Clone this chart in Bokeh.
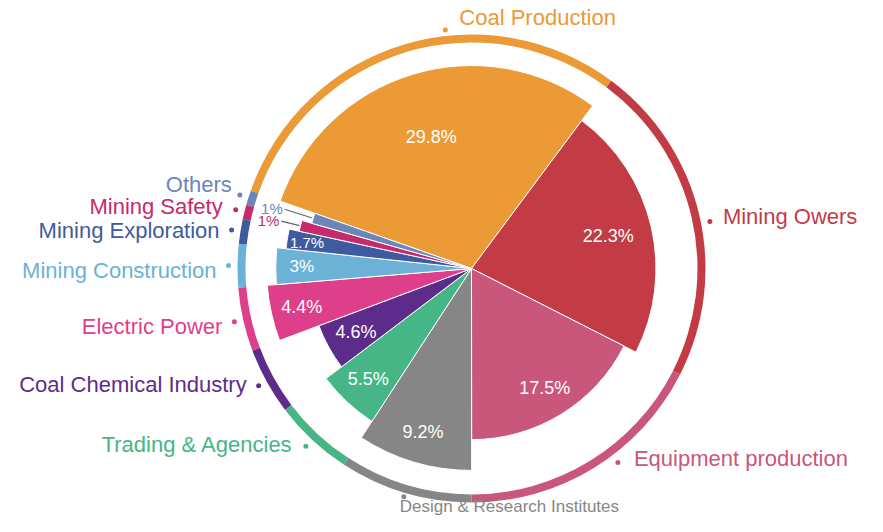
import math
from bokeh.plotting import figure
from bokeh.models import Range1d, ColumnDataSource
from bokeh.embed import file_html
from bokeh.resources import INLINE
from bokeh.core.properties import value

# ---------------- data ----------------
categories = ["Coal Production", "Mining Owers", "Equipment production",
              "Design & Research Institutes", "Trading & Agencies",
              "Coal Chemical Industry", "Electric Power", "Mining Construction",
              "Mining Exploration", "Mining Safety", "Others"]
shares = [29.8, 22.3, 17.5, 9.2, 5.5, 4.6, 4.4, 3, 1.7, 1, 1]
# relative petal length of each slice (1.0 = longest)
petal_length = [0.99, 0.90, 0.835, 0.985, 0.89, 0.795, 1.0, 0.955, 0.91, 0.86, 0.81]
colors = ["#EB9A35", "#C23B45", "#C9577B", "#868686", "#46B686", "#5D2C8B",
          "#DE3F8B", "#6CB1D6", "#3E5BA0", "#C52A6B", "#6B86B8"]

# ---------------- layout ----------------
W, H = 867, 516
X0, Y0 = 1, 15             # range starts (screen px mapping)
CX, CY = 472, 263          # centre in data units (y up)
R_MAX = 205
START_DEG = -70.6          # compass angle where first slice starts
RING_IN, RING_OUT = 226, 234
DOT_R = 243
LEADER_R = 196
FONT = value("Liberation Sans")
label_angle_shift = {"Coal Production": 10.7, "Mining Owers": 2.0, "Equipment production": -5.5}
label_dot_r = {"Coal Production": 240, "Design & Research Institutes": 238}
label_font = {"Design & Research Institutes": "17px"}
# screen-pixel nudges (dx, dy) and alignment for outer labels
label_nudge = {"Mining Owers": (13, -5), "Equipment production": (16, -4),
               "Coal Production": (14, -12), "Design & Research Institutes": (-4, 9.5),
               "Trading & Agencies": (-13, -2), "Coal Chemical Industry": (-12, -1),
               "Electric Power": (-12, 5), "Mining Construction": (-12, 5),
               "Mining Exploration": (-12, 1), "Mining Safety": (-13, -3),
               "Others": (-8, -11)}
label_align = {"Mining Owers": "left", "Equipment production": "left",
               "Coal Production": "left", "Design & Research Institutes": "left"}
inside_inset = {"Coal Production": 65, "Mining Owers": 44, "Mining Construction": 26,
                "Mining Exploration": 20}


def pt(theta_deg, r):
    t = math.radians(theta_deg)
    return CX + r * math.sin(t), CY + r * math.cos(t)


p = figure(width=W, height=H, x_range=Range1d(X0, X0 + W), y_range=Range1d(Y0, Y0 + H),
           output_backend="svg", toolbar_location=None, min_border=0,
           x_axis_location=None, y_axis_location=None)
p.grid.visible = False
p.outline_line_color = None
p.background_fill_color = "white"

total = sum(shares)
starts, ends, mids, radii = [], [], [], []
acc = START_DEG
for v, pl in zip(shares, petal_length):
    a0 = acc
    a1 = acc + 360.0 * v / total
    starts.append(a0)
    ends.append(a1)
    mids.append((a0 + a1) / 2)
    radii.append(pl * R_MAX)
    acc = a1

src = ColumnDataSource(dict(
    x=[CX] * len(shares), y=[CY] * len(shares), r=radii, color=colors,
    sa=[math.radians(90 - e) for e in ends],
    ea=[math.radians(90 - s) for s in starts],
))

# petals
p.wedge(x="x", y="y", radius="r", start_angle="sa", end_angle="ea",
        fill_color="color", line_color="white", line_width=1, source=src)
# outer ring
p.annular_wedge(x="x", y="y", inner_radius=RING_IN, outer_radius=RING_OUT,
                start_angle="sa", end_angle="ea", fill_color="color",
                line_color=None, source=src)

# inside / leader percent labels
for cat, v, m, r, c in zip(categories, shares, mids, radii, colors):
    txt = f"{v:g}%"
    if v < 1.5:
        x0, y0 = pt(m, r + 1)
        x1, y1 = pt(m, LEADER_R)
        p.line([x0, x1], [y0, y1], line_color="#666666", line_width=1.2)
        tx, ty = pt(m, LEADER_R + 2)
        p.text(x=[tx], y=[ty], text=[txt], text_align="right", text_baseline="middle",
               text_font=FONT, text_font_size="15px", text_color=c)
    else:
        lr = r - inside_inset.get(cat, 31)
        tx, ty = pt(m, lr)
        size = "18px" if v >= 4 else ("17px" if v >= 2 else "15px")
        p.text(x=[tx], y=[ty], text=[txt], text_align="center", text_baseline="middle",
               text_font=FONT, text_font_size=size, text_color="#FFFFFF")

# outer category labels with dots
for cat, m, c in zip(categories, mids, colors):
    ang = m + label_angle_shift.get(cat, 0.0)
    dx_, dy_ = pt(ang, label_dot_r.get(cat, DOT_R))
    p.scatter(x=[dx_], y=[dy_], size=5, fill_color=c, line_color=None)
    nx, ny = label_nudge.get(cat, (0, 0))
    p.text(x=[dx_ + nx], y=[dy_ - ny], text=[cat], text_align=label_align.get(cat, "right"),
           text_baseline="middle", text_font=FONT,
           text_font_size=label_font.get(cat, "22px"), text_color=c)

open("out.html", "w").write(file_html(p, INLINE))
